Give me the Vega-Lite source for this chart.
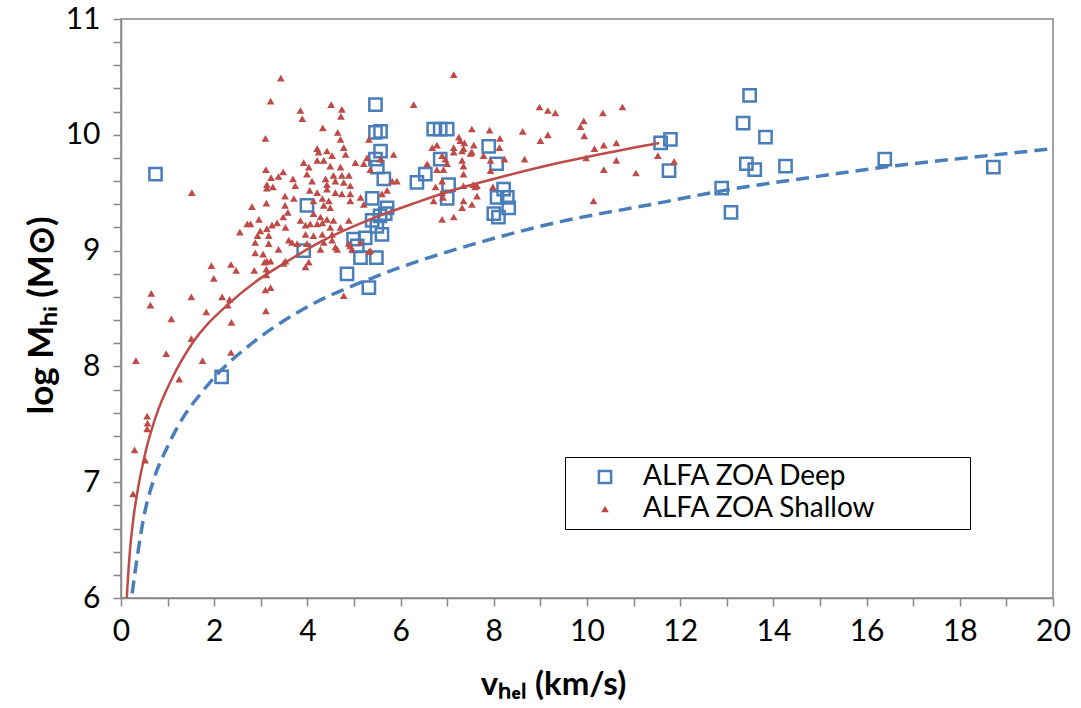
{
  "$schema": "https://vega.github.io/schema/vega-lite/v6.json",
  "autosize": {"type": "none"},
  "width": 932,
  "height": 579,
  "padding": {"left": 121, "top": 19, "right": 28, "bottom": 110},
  "background": "white",
  "config": {
    "font": "Lato",
    "view": {"stroke": "#868686", "strokeWidth": 1.5},
    "axis": {"grid": false, "domainColor": "#868686", "domainWidth": 1.5, "tickColor": "#868686", "tickWidth": 1.5, "tickSize": 8, "labelColor": "#000", "titleColor": "#000", "labelFont": "Lato", "titleFont": "Lato", "labelOverlap": false, "labelFlush": false},
    "legend": {"orient": "none", "legendX": 444, "legendY": 438, "strokeColor": "#000", "strokeWidth": 1, "fillColor": "white", "padding": 6, "labelFont": "Lato", "labelFontSize": 28, "labelColor": "#000", "labelLimit": 500, "labelOffset": 24, "symbolOffset": 20, "rowPadding": 4, "symbolStrokeWidth": 2.5, "titleOrient": "right", "titlePadding": 88, "titleFontSize": 10}
  },
  "datasets": {
    "pts": [
      {"v":0.74,"m":9.66,"s":"ALFA ZOA Deep"},{"v":2.16,"m":7.91,"s":"ALFA ZOA Deep"},{"v":3.92,"m":9.0,"s":"ALFA ZOA Deep"},{"v":3.99,"m":9.39,"s":"ALFA ZOA Deep"},{"v":4.85,"m":8.8,"s":"ALFA ZOA Deep"},{"v":4.99,"m":9.1,"s":"ALFA ZOA Deep"},{"v":5.07,"m":9.04,"s":"ALFA ZOA Deep"},{"v":5.14,"m":8.94,"s":"ALFA ZOA Deep"},{"v":5.24,"m":9.11,"s":"ALFA ZOA Deep"},{"v":5.32,"m":8.68,"s":"ALFA ZOA Deep"},{"v":5.48,"m":8.94,"s":"ALFA ZOA Deep"},{"v":5.6,"m":9.14,"s":"ALFA ZOA Deep"},{"v":5.39,"m":9.26,"s":"ALFA ZOA Deep"},{"v":5.49,"m":9.21,"s":"ALFA ZOA Deep"},{"v":5.56,"m":9.3,"s":"ALFA ZOA Deep"},{"v":5.71,"m":9.37,"s":"ALFA ZOA Deep"},{"v":5.67,"m":9.32,"s":"ALFA ZOA Deep"},{"v":5.46,"m":10.26,"s":"ALFA ZOA Deep"},{"v":5.46,"m":10.02,"s":"ALFA ZOA Deep"},{"v":5.57,"m":10.03,"s":"ALFA ZOA Deep"},{"v":5.57,"m":9.86,"s":"ALFA ZOA Deep"},{"v":5.46,"m":9.79,"s":"ALFA ZOA Deep"},{"v":5.5,"m":9.72,"s":"ALFA ZOA Deep"},{"v":5.64,"m":9.62,"s":"ALFA ZOA Deep"},{"v":5.39,"m":9.45,"s":"ALFA ZOA Deep"},{"v":6.71,"m":10.05,"s":"ALFA ZOA Deep"},{"v":6.85,"m":10.05,"s":"ALFA ZOA Deep"},{"v":7.0,"m":10.05,"s":"ALFA ZOA Deep"},{"v":6.85,"m":9.79,"s":"ALFA ZOA Deep"},{"v":6.35,"m":9.59,"s":"ALFA ZOA Deep"},{"v":6.53,"m":9.66,"s":"ALFA ZOA Deep"},{"v":7.03,"m":9.57,"s":"ALFA ZOA Deep"},{"v":7.0,"m":9.45,"s":"ALFA ZOA Deep"},{"v":7.89,"m":9.9,"s":"ALFA ZOA Deep"},{"v":8.06,"m":9.75,"s":"ALFA ZOA Deep"},{"v":8.21,"m":9.53,"s":"ALFA ZOA Deep"},{"v":8.07,"m":9.46,"s":"ALFA ZOA Deep"},{"v":8.29,"m":9.46,"s":"ALFA ZOA Deep"},{"v":8.32,"m":9.37,"s":"ALFA ZOA Deep"},{"v":8.0,"m":9.32,"s":"ALFA ZOA Deep"},{"v":8.1,"m":9.29,"s":"ALFA ZOA Deep"},{"v":11.58,"m":9.93,"s":"ALFA ZOA Deep"},{"v":11.79,"m":9.96,"s":"ALFA ZOA Deep"},{"v":11.76,"m":9.69,"s":"ALFA ZOA Deep"},{"v":12.89,"m":9.54,"s":"ALFA ZOA Deep"},{"v":13.09,"m":9.33,"s":"ALFA ZOA Deep"},{"v":13.35,"m":10.1,"s":"ALFA ZOA Deep"},{"v":13.49,"m":10.34,"s":"ALFA ZOA Deep"},{"v":13.42,"m":9.75,"s":"ALFA ZOA Deep"},{"v":13.6,"m":9.7,"s":"ALFA ZOA Deep"},{"v":13.83,"m":9.98,"s":"ALFA ZOA Deep"},{"v":14.26,"m":9.73,"s":"ALFA ZOA Deep"},{"v":16.39,"m":9.79,"s":"ALFA ZOA Deep"},{"v":18.72,"m":9.72,"s":"ALFA ZOA Deep"},
      {"v":3.43,"m":10.49,"s":"ALFA ZOA Shallow"},{"v":3.21,"m":10.29,"s":"ALFA ZOA Shallow"},{"v":3.1,"m":9.97,"s":"ALFA ZOA Shallow"},{"v":3.11,"m":9.7,"s":"ALFA ZOA Shallow"},{"v":3.48,"m":9.68,"s":"ALFA ZOA Shallow"},{"v":3.22,"m":9.63,"s":"ALFA ZOA Shallow"},{"v":3.38,"m":9.64,"s":"ALFA ZOA Shallow"},{"v":3.13,"m":9.57,"s":"ALFA ZOA Shallow"},{"v":3.13,"m":9.54,"s":"ALFA ZOA Shallow"},{"v":3.26,"m":9.55,"s":"ALFA ZOA Shallow"},{"v":1.52,"m":9.5,"s":"ALFA ZOA Shallow"},{"v":3.52,"m":9.47,"s":"ALFA ZOA Shallow"},{"v":2.81,"m":9.38,"s":"ALFA ZOA Shallow"},{"v":3.12,"m":9.41,"s":"ALFA ZOA Shallow"},{"v":3.52,"m":9.39,"s":"ALFA ZOA Shallow"},{"v":3.58,"m":9.33,"s":"ALFA ZOA Shallow"},{"v":2.96,"m":9.27,"s":"ALFA ZOA Shallow"},{"v":2.71,"m":9.23,"s":"ALFA ZOA Shallow"},{"v":2.78,"m":9.23,"s":"ALFA ZOA Shallow"},{"v":2.55,"m":9.16,"s":"ALFA ZOA Shallow"},{"v":2.99,"m":9.17,"s":"ALFA ZOA Shallow"},{"v":3.13,"m":9.19,"s":"ALFA ZOA Shallow"},{"v":3.24,"m":9.22,"s":"ALFA ZOA Shallow"},{"v":3.35,"m":9.24,"s":"ALFA ZOA Shallow"},{"v":3.48,"m":9.29,"s":"ALFA ZOA Shallow"},{"v":2.93,"m":9.13,"s":"ALFA ZOA Shallow"},{"v":3.17,"m":9.13,"s":"ALFA ZOA Shallow"},{"v":2.88,"m":9.07,"s":"ALFA ZOA Shallow"},{"v":3.17,"m":9.06,"s":"ALFA ZOA Shallow"},{"v":3.38,"m":9.01,"s":"ALFA ZOA Shallow"},{"v":2.88,"m":8.98,"s":"ALFA ZOA Shallow"},{"v":3.05,"m":8.97,"s":"ALFA ZOA Shallow"},{"v":3.13,"m":8.91,"s":"ALFA ZOA Shallow"},{"v":3.21,"m":8.91,"s":"ALFA ZOA Shallow"},{"v":3.08,"m":8.9,"s":"ALFA ZOA Shallow"},{"v":3.53,"m":8.91,"s":"ALFA ZOA Shallow"},{"v":1.94,"m":8.87,"s":"ALFA ZOA Shallow"},{"v":2.36,"m":8.88,"s":"ALFA ZOA Shallow"},{"v":2.47,"m":8.83,"s":"ALFA ZOA Shallow"},{"v":2.86,"m":8.83,"s":"ALFA ZOA Shallow"},{"v":3.12,"m":8.84,"s":"ALFA ZOA Shallow"},{"v":3.12,"m":8.79,"s":"ALFA ZOA Shallow"},{"v":1.99,"m":8.76,"s":"ALFA ZOA Shallow"},{"v":3.1,"m":8.66,"s":"ALFA ZOA Shallow"},{"v":3.21,"m":8.68,"s":"ALFA ZOA Shallow"},{"v":0.65,"m":8.63,"s":"ALFA ZOA Shallow"},{"v":0.63,"m":8.53,"s":"ALFA ZOA Shallow"},{"v":1.51,"m":8.6,"s":"ALFA ZOA Shallow"},{"v":2.17,"m":8.6,"s":"ALFA ZOA Shallow"},{"v":2.33,"m":8.58,"s":"ALFA ZOA Shallow"},{"v":2.29,"m":8.53,"s":"ALFA ZOA Shallow"},{"v":1.83,"m":8.47,"s":"ALFA ZOA Shallow"},{"v":3.11,"m":8.48,"s":"ALFA ZOA Shallow"},{"v":1.08,"m":8.41,"s":"ALFA ZOA Shallow"},{"v":2.37,"m":8.38,"s":"ALFA ZOA Shallow"},{"v":1.51,"m":8.24,"s":"ALFA ZOA Shallow"},{"v":0.32,"m":8.05,"s":"ALFA ZOA Shallow"},{"v":0.97,"m":8.11,"s":"ALFA ZOA Shallow"},{"v":1.75,"m":8.05,"s":"ALFA ZOA Shallow"},{"v":1.25,"m":7.89,"s":"ALFA ZOA Shallow"},{"v":2.36,"m":8.12,"s":"ALFA ZOA Shallow"},{"v":0.56,"m":7.57,"s":"ALFA ZOA Shallow"},{"v":0.57,"m":7.51,"s":"ALFA ZOA Shallow"},{"v":0.56,"m":7.46,"s":"ALFA ZOA Shallow"},{"v":0.29,"m":7.28,"s":"ALFA ZOA Shallow"},{"v":0.52,"m":7.19,"s":"ALFA ZOA Shallow"},{"v":0.26,"m":6.9,"s":"ALFA ZOA Shallow"},{"v":3.85,"m":10.21,"s":"ALFA ZOA Shallow"},{"v":3.89,"m":10.14,"s":"ALFA ZOA Shallow"},{"v":4.51,"m":10.26,"s":"ALFA ZOA Shallow"},{"v":4.74,"m":10.22,"s":"ALFA ZOA Shallow"},{"v":4.72,"m":10.16,"s":"ALFA ZOA Shallow"},{"v":6.28,"m":10.26,"s":"ALFA ZOA Shallow"},{"v":4.33,"m":10.06,"s":"ALFA ZOA Shallow"},{"v":4.65,"m":10.02,"s":"ALFA ZOA Shallow"},{"v":4.71,"m":9.96,"s":"ALFA ZOA Shallow"},{"v":5.32,"m":9.96,"s":"ALFA ZOA Shallow"},{"v":4.21,"m":9.88,"s":"ALFA ZOA Shallow"},{"v":4.24,"m":9.85,"s":"ALFA ZOA Shallow"},{"v":4.42,"m":9.86,"s":"ALFA ZOA Shallow"},{"v":4.78,"m":9.89,"s":"ALFA ZOA Shallow"},{"v":4.82,"m":9.83,"s":"ALFA ZOA Shallow"},{"v":4.53,"m":9.82,"s":"ALFA ZOA Shallow"},{"v":3.92,"m":9.76,"s":"ALFA ZOA Shallow"},{"v":4.03,"m":9.72,"s":"ALFA ZOA Shallow"},{"v":4.21,"m":9.78,"s":"ALFA ZOA Shallow"},{"v":4.35,"m":9.78,"s":"ALFA ZOA Shallow"},{"v":5.03,"m":9.76,"s":"ALFA ZOA Shallow"},{"v":5.21,"m":9.75,"s":"ALFA ZOA Shallow"},{"v":5.28,"m":9.8,"s":"ALFA ZOA Shallow"},{"v":5.57,"m":9.79,"s":"ALFA ZOA Shallow"},{"v":5.85,"m":9.83,"s":"ALFA ZOA Shallow"},{"v":3.99,"m":9.66,"s":"ALFA ZOA Shallow"},{"v":4.49,"m":9.73,"s":"ALFA ZOA Shallow"},{"v":4.71,"m":9.72,"s":"ALFA ZOA Shallow"},{"v":5.35,"m":9.7,"s":"ALFA ZOA Shallow"},{"v":3.69,"m":9.62,"s":"ALFA ZOA Shallow"},{"v":3.74,"m":9.56,"s":"ALFA ZOA Shallow"},{"v":4.1,"m":9.6,"s":"ALFA ZOA Shallow"},{"v":4.39,"m":9.62,"s":"ALFA ZOA Shallow"},{"v":4.42,"m":9.57,"s":"ALFA ZOA Shallow"},{"v":4.56,"m":9.65,"s":"ALFA ZOA Shallow"},{"v":4.6,"m":9.6,"s":"ALFA ZOA Shallow"},{"v":4.74,"m":9.65,"s":"ALFA ZOA Shallow"},{"v":4.78,"m":9.59,"s":"ALFA ZOA Shallow"},{"v":4.89,"m":9.65,"s":"ALFA ZOA Shallow"},{"v":4.92,"m":9.56,"s":"ALFA ZOA Shallow"},{"v":5.82,"m":9.6,"s":"ALFA ZOA Shallow"},{"v":5.92,"m":9.6,"s":"ALFA ZOA Shallow"},{"v":3.71,"m":9.45,"s":"ALFA ZOA Shallow"},{"v":4.05,"m":9.52,"s":"ALFA ZOA Shallow"},{"v":4.21,"m":9.5,"s":"ALFA ZOA Shallow"},{"v":4.42,"m":9.53,"s":"ALFA ZOA Shallow"},{"v":4.6,"m":9.5,"s":"ALFA ZOA Shallow"},{"v":4.74,"m":9.49,"s":"ALFA ZOA Shallow"},{"v":4.92,"m":9.49,"s":"ALFA ZOA Shallow"},{"v":5.14,"m":9.46,"s":"ALFA ZOA Shallow"},{"v":5.6,"m":9.49,"s":"ALFA ZOA Shallow"},{"v":5.71,"m":9.52,"s":"ALFA ZOA Shallow"},{"v":4.13,"m":9.43,"s":"ALFA ZOA Shallow"},{"v":4.32,"m":9.45,"s":"ALFA ZOA Shallow"},{"v":4.46,"m":9.43,"s":"ALFA ZOA Shallow"},{"v":4.35,"m":9.39,"s":"ALFA ZOA Shallow"},{"v":4.49,"m":9.37,"s":"ALFA ZOA Shallow"},{"v":4.92,"m":9.43,"s":"ALFA ZOA Shallow"},{"v":5.21,"m":9.4,"s":"ALFA ZOA Shallow"},{"v":6.57,"m":9.75,"s":"ALFA ZOA Shallow"},{"v":6.68,"m":9.89,"s":"ALFA ZOA Shallow"},{"v":6.78,"m":9.91,"s":"ALFA ZOA Shallow"},{"v":6.89,"m":9.82,"s":"ALFA ZOA Shallow"},{"v":6.96,"m":9.79,"s":"ALFA ZOA Shallow"},{"v":6.78,"m":9.7,"s":"ALFA ZOA Shallow"},{"v":6.92,"m":9.7,"s":"ALFA ZOA Shallow"},{"v":7.0,"m":9.75,"s":"ALFA ZOA Shallow"},{"v":6.75,"m":9.55,"s":"ALFA ZOA Shallow"},{"v":6.89,"m":9.6,"s":"ALFA ZOA Shallow"},{"v":6.71,"m":9.43,"s":"ALFA ZOA Shallow"},{"v":6.89,"m":9.5,"s":"ALFA ZOA Shallow"},{"v":6.91,"m":9.46,"s":"ALFA ZOA Shallow"},{"v":3.53,"m":9.2,"s":"ALFA ZOA Shallow"},{"v":3.85,"m":9.26,"s":"ALFA ZOA Shallow"},{"v":3.96,"m":9.22,"s":"ALFA ZOA Shallow"},{"v":4.06,"m":9.23,"s":"ALFA ZOA Shallow"},{"v":4.21,"m":9.23,"s":"ALFA ZOA Shallow"},{"v":4.32,"m":9.24,"s":"ALFA ZOA Shallow"},{"v":4.13,"m":9.32,"s":"ALFA ZOA Shallow"},{"v":4.28,"m":9.29,"s":"ALFA ZOA Shallow"},{"v":4.42,"m":9.27,"s":"ALFA ZOA Shallow"},{"v":4.49,"m":9.2,"s":"ALFA ZOA Shallow"},{"v":4.53,"m":9.14,"s":"ALFA ZOA Shallow"},{"v":4.56,"m":9.26,"s":"ALFA ZOA Shallow"},{"v":4.71,"m":9.2,"s":"ALFA ZOA Shallow"},{"v":4.89,"m":9.26,"s":"ALFA ZOA Shallow"},{"v":3.67,"m":9.07,"s":"ALFA ZOA Shallow"},{"v":3.96,"m":9.14,"s":"ALFA ZOA Shallow"},{"v":4.13,"m":9.13,"s":"ALFA ZOA Shallow"},{"v":4.32,"m":9.14,"s":"ALFA ZOA Shallow"},{"v":4.35,"m":9.07,"s":"ALFA ZOA Shallow"},{"v":4.53,"m":9.09,"s":"ALFA ZOA Shallow"},{"v":4.28,"m":9.01,"s":"ALFA ZOA Shallow"},{"v":4.6,"m":9.03,"s":"ALFA ZOA Shallow"},{"v":4.92,"m":9.04,"s":"ALFA ZOA Shallow"},{"v":5.14,"m":9.07,"s":"ALFA ZOA Shallow"},{"v":5.35,"m":9.0,"s":"ALFA ZOA Shallow"},{"v":4.03,"m":8.9,"s":"ALFA ZOA Shallow"},{"v":3.96,"m":8.86,"s":"ALFA ZOA Shallow"},{"v":4.78,"m":8.61,"s":"ALFA ZOA Shallow"},{"v":7.14,"m":9.29,"s":"ALFA ZOA Shallow"},{"v":6.89,"m":9.27,"s":"ALFA ZOA Shallow"},{"v":7.32,"m":9.37,"s":"ALFA ZOA Shallow"},{"v":7.53,"m":9.4,"s":"ALFA ZOA Shallow"},{"v":7.6,"m":9.55,"s":"ALFA ZOA Shallow"},{"v":7.35,"m":9.56,"s":"ALFA ZOA Shallow"},{"v":7.35,"m":9.66,"s":"ALFA ZOA Shallow"},{"v":7.32,"m":9.78,"s":"ALFA ZOA Shallow"},{"v":7.53,"m":9.85,"s":"ALFA ZOA Shallow"},{"v":7.14,"m":9.89,"s":"ALFA ZOA Shallow"},{"v":7.28,"m":9.95,"s":"ALFA ZOA Shallow"},{"v":7.35,"m":9.88,"s":"ALFA ZOA Shallow"},{"v":7.14,"m":10.52,"s":"ALFA ZOA Shallow"},{"v":7.53,"m":10.05,"s":"ALFA ZOA Shallow"},{"v":8.98,"m":10.24,"s":"ALFA ZOA Shallow"},{"v":9.16,"m":10.21,"s":"ALFA ZOA Shallow"},{"v":9.32,"m":10.19,"s":"ALFA ZOA Shallow"},{"v":10.34,"m":10.19,"s":"ALFA ZOA Shallow"},{"v":10.76,"m":10.24,"s":"ALFA ZOA Shallow"},{"v":9.93,"m":10.12,"s":"ALFA ZOA Shallow"},{"v":9.86,"m":10.07,"s":"ALFA ZOA Shallow"},{"v":9.94,"m":9.99,"s":"ALFA ZOA Shallow"},{"v":7.91,"m":10.04,"s":"ALFA ZOA Shallow"},{"v":8.13,"m":9.97,"s":"ALFA ZOA Shallow"},{"v":8.62,"m":10.03,"s":"ALFA ZOA Shallow"},{"v":9.0,"m":9.95,"s":"ALFA ZOA Shallow"},{"v":9.16,"m":10.0,"s":"ALFA ZOA Shallow"},{"v":7.25,"m":9.98,"s":"ALFA ZOA Shallow"},{"v":7.37,"m":9.93,"s":"ALFA ZOA Shallow"},{"v":7.57,"m":9.91,"s":"ALFA ZOA Shallow"},{"v":7.14,"m":9.85,"s":"ALFA ZOA Shallow"},{"v":7.32,"m":9.86,"s":"ALFA ZOA Shallow"},{"v":7.5,"m":9.84,"s":"ALFA ZOA Shallow"},{"v":7.78,"m":9.82,"s":"ALFA ZOA Shallow"},{"v":7.93,"m":9.78,"s":"ALFA ZOA Shallow"},{"v":8.12,"m":9.89,"s":"ALFA ZOA Shallow"},{"v":8.23,"m":9.79,"s":"ALFA ZOA Shallow"},{"v":8.66,"m":9.79,"s":"ALFA ZOA Shallow"},{"v":10.16,"m":9.88,"s":"ALFA ZOA Shallow"},{"v":10.36,"m":9.91,"s":"ALFA ZOA Shallow"},{"v":10.63,"m":9.93,"s":"ALFA ZOA Shallow"},{"v":9.98,"m":9.8,"s":"ALFA ZOA Shallow"},{"v":10.63,"m":9.78,"s":"ALFA ZOA Shallow"},{"v":10.36,"m":9.7,"s":"ALFA ZOA Shallow"},{"v":11.05,"m":9.67,"s":"ALFA ZOA Shallow"},{"v":11.52,"m":9.82,"s":"ALFA ZOA Shallow"},{"v":7.93,"m":9.69,"s":"ALFA ZOA Shallow"},{"v":7.35,"m":9.73,"s":"ALFA ZOA Shallow"},{"v":7.56,"m":9.57,"s":"ALFA ZOA Shallow"},{"v":7.64,"m":9.56,"s":"ALFA ZOA Shallow"},{"v":7.98,"m":9.55,"s":"ALFA ZOA Shallow"},{"v":7.64,"m":9.47,"s":"ALFA ZOA Shallow"},{"v":7.35,"m":9.43,"s":"ALFA ZOA Shallow"},{"v":10.14,"m":9.43,"s":"ALFA ZOA Shallow"},{"v":11.87,"m":9.77,"s":"ALFA ZOA Shallow"},{"v":4.89,"m":9.06,"s":"ALFA ZOA Shallow"},{"v":4.96,"m":9.01,"s":"ALFA ZOA Shallow"},{"v":5.32,"m":8.99,"s":"ALFA ZOA Shallow"},{"v":4.64,"m":9.01,"s":"ALFA ZOA Shallow"},{"v":3.6,"m":9.09,"s":"ALFA ZOA Shallow"},{"v":3.78,"m":9.06,"s":"ALFA ZOA Shallow"},{"v":3.99,"m":9.06,"s":"ALFA ZOA Shallow"},{"v":3.49,"m":8.89,"s":"ALFA ZOA Shallow"}
    ],
    "deepCurve": [
      {"v":0.24,"m":6.04},{"v":0.35,"m":6.36},{"v":0.49,"m":6.7},{"v":0.7,"m":7.02},{"v":0.99,"m":7.3},{"v":1.35,"m":7.57},{"v":1.7,"m":7.76},{"v":2.06,"m":7.93},{"v":2.78,"m":8.19},{"v":3.85,"m":8.48},{"v":5.56,"m":8.79},{"v":7.6,"m":9.06},{"v":9.43,"m":9.25},{"v":11.4,"m":9.4},{"v":12.95,"m":9.52},{"v":14.76,"m":9.63},{"v":16.56,"m":9.73},{"v":18.36,"m":9.81},{"v":20.0,"m":9.88}
    ],
    "shallowCurve": [
      {"v":0.12,"m":5.98},{"v":0.19,"m":6.4},{"v":0.27,"m":6.7},{"v":0.38,"m":6.98},{"v":0.52,"m":7.25},{"v":0.75,"m":7.57},{"v":1.1,"m":7.9},{"v":1.53,"m":8.2},{"v":2.31,"m":8.54},{"v":2.99,"m":8.76},{"v":3.42,"m":8.87},{"v":4.3,"m":9.08},{"v":5.35,"m":9.27},{"v":6.3,"m":9.41},{"v":7.28,"m":9.54},{"v":8.3,"m":9.65},{"v":9.43,"m":9.76},{"v":10.5,"m":9.85},{"v":11.55,"m":9.93}
    ]
  },
  "encoding": {
    "x": {"field": "v", "type": "quantitative", "scale": {"domain": [0, 20], "nice": false, "zero": false},
      "axis": {"values": [0,1,2,3,4,5,6,7,8,9,10,11,12,13,14,15,16,17,18,19,20], "labelExpr": "datum.value % 2 === 0 ? format(datum.value, 'd') : ''", "labelFontSize": 30, "labelPadding": 10, "title": "vₕₑₗ (km/s)", "titleFontSize": 33, "titleFontWeight": "bold", "titlePadding": 22, "titleX": 432}},
    "y": {"field": "m", "type": "quantitative", "scale": {"domain": [6, 11], "nice": false, "zero": false},
      "axis": {"values": [6,6.2,6.4,6.6,6.8,7,7.2,7.4,7.6,7.8,8,8.2,8.4,8.6,8.8,9,9.2,9.4,9.6,9.8,10,10.2,10.4,10.6,10.8,11], "labelExpr": "datum.value % 1 === 0 ? format(datum.value, 'd') : ''", "labelFontSize": 30, "labelPadding": 13, "title": "log  Mₕᵢ (M⊙)", "titleFontSize": 35, "titleFontWeight": "bold", "titlePadding": 6, "titleY": 296}}
  },
  "layer": [
    {
      "data": {"name": "pts"},
      "mark": {"type": "point", "strokeWidth": 2.5, "opacity": 1, "clip": true},
      "encoding": {
        "shape": {"field": "s", "type": "nominal", "scale": {"domain": ["ALFA ZOA Deep", "ALFA ZOA Shallow"], "range": ["square", "triangle-up"]}, "legend": {"title": " "}},
        "stroke": {"field": "s", "type": "nominal", "scale": {"domain": ["ALFA ZOA Deep", "ALFA ZOA Shallow"], "range": ["#4A7EBB", "transparent"]}, "legend": {"title": " "}},
        "fill": {"field": "s", "type": "nominal", "scale": {"domain": ["ALFA ZOA Deep", "ALFA ZOA Shallow"], "range": ["transparent", "#BE4B48"]}, "legend": {"title": " "}},
        "size": {"field": "s", "type": "nominal", "scale": {"domain": ["ALFA ZOA Deep", "ALFA ZOA Shallow"], "range": [150, 60]}, "legend": {"title": " "}}
      }
    },
    {
      "data": {"name": "deepCurve"},
      "mark": {"type": "line", "color": "#4A7EBB", "strokeWidth": 3.5, "strokeDash": [13, 7], "interpolate": "monotone", "clip": true},
      "encoding": {}
    },
    {
      "data": {"name": "shallowCurve"},
      "mark": {"type": "line", "color": "#BE4B48", "strokeWidth": 2.5, "interpolate": "monotone", "clip": true},
      "encoding": {}
    }
  ]
}
